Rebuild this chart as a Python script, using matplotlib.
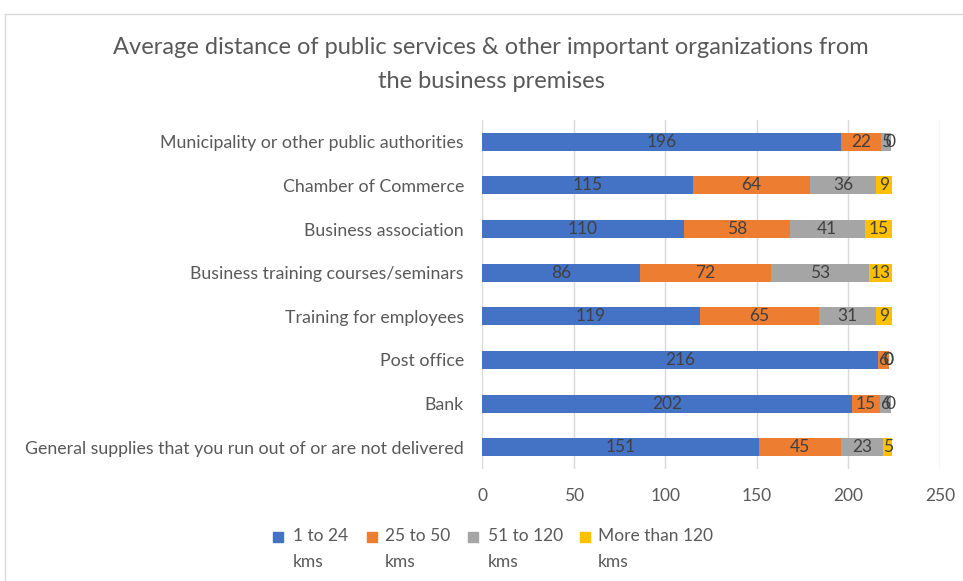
import numpy as np
import matplotlib.pyplot as plt
from matplotlib.lines import Line2D

plt.rcParams['font.family'] = ['Lato', 'DejaVu Sans']

categories = ['Municipality or other public authorities',
              'Chamber of Commerce',
              'Business association',
              'Business training courses/seminars',
              'Training for employees',
              'Post office',
              'Bank',
              'General supplies that you run out of or are not delivered']
series = ['1 to 24\nkms', '25 to 50\nkms', '51 to 120\nkms', 'More than 120\nkms']
v1 = [196, 115, 110, 86, 119, 216, 202, 151]
v2 = [22, 64, 58, 72, 65, 6, 15, 45]
v3 = [5, 36, 41, 53, 31, 0, 6, 23]
v4 = [0, 9, 15, 13, 9, 0, 0, 5]
colors = ['#4472C4', '#ED7D31', '#A5A5A5', '#FFC000']
txt = '#595959'

fig = plt.figure(figsize=(9.63, 5.81), dpi=100)
ax = fig.add_axes([482/963, 1-469/581, (940-482)/963, (469-120)/581])

y = np.arange(len(categories))
left = np.zeros(len(categories))
for vals, c in zip([v1, v2, v3, v4], colors):
    vals = np.array(vals)
    ax.barh(y, vals, left=left, height=0.41, color=c, zorder=2)
    for yi, l, v in zip(y, left, vals):
        ax.text(l + v/2, yi, str(v), ha='center', va='center', fontsize=12.5, color='#404040', zorder=3)
    left += vals

ax.set_xlim(0, 250)
ax.set_ylim(7.5, -0.5)
ax.set_xticks(range(0, 251, 50))
ax.set_yticks(y)
ax.set_yticklabels(categories)
ax.grid(axis='x', color='#D9D9D9', lw=1, zorder=0)
for s in ax.spines.values():
    s.set_visible(False)
ax.tick_params(length=0, labelsize=12.8, colors=txt)
ax.tick_params(axis='y', pad=13)
ax.tick_params(axis='x', pad=14, labelsize=12.5)

fig.text(491/963, 1-47/581, 'Average distance of public services & other important organizations from',
         ha='center', va='center', fontsize=17, color=txt)
fig.text(491/963, 1-82/581, 'the business premises', ha='center', va='center', fontsize=17, color=txt)

# legend, marker beside the first line of each two-line label
mx = [278, 372, 473, 585]
tx = [293, 385, 488, 598]
for lab, c, m, t in zip(series, colors, mx, tx):
    fig.add_artist(Line2D([m/963], [1-537/581], marker='s', ls='', color=c, markersize=7))
    fig.text(t/963, 1-528/581, lab, ha='left', va='top', fontsize=12.5, color=txt, linespacing=1.75)

# chart area border
fig.add_artist(Line2D([5/963, 5/963], [0, 1-14/581], color='#D9D9D9', lw=1))
fig.add_artist(Line2D([5/963, 1], [1-14/581, 1-14/581], color='#D9D9D9', lw=1))

fig.savefig('out.png', dpi=100)
